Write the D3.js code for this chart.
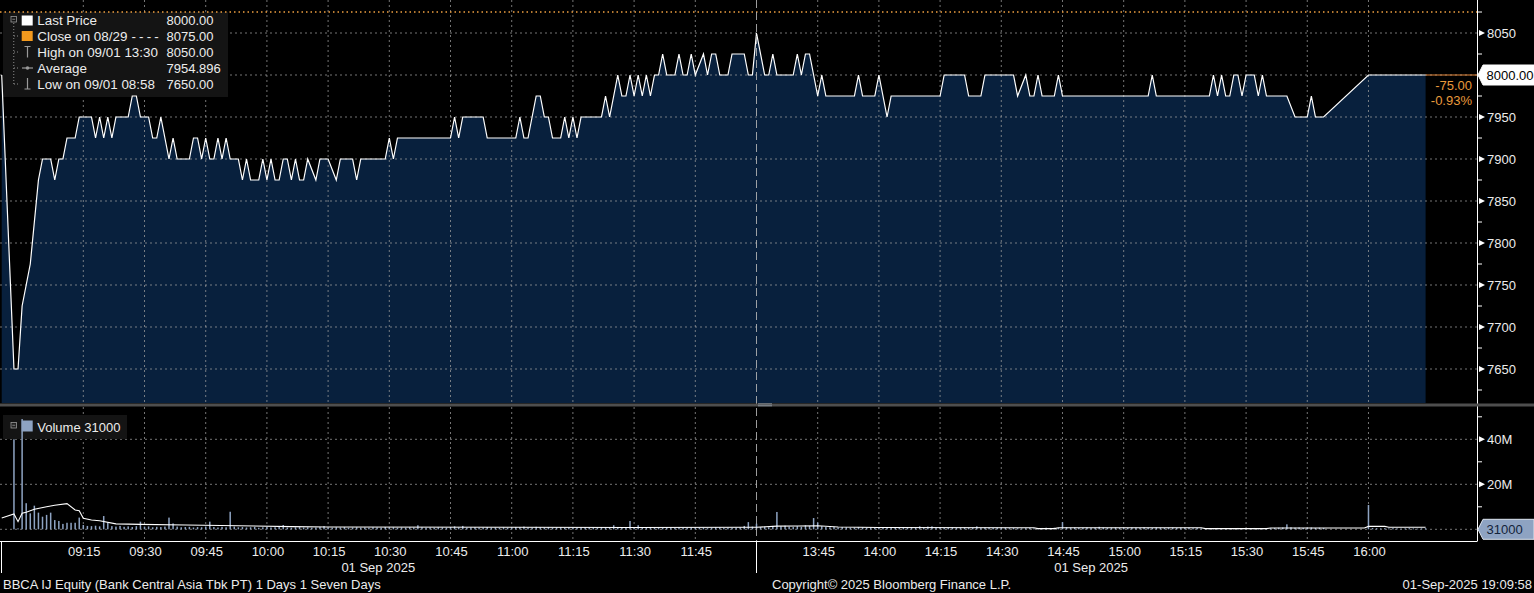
<!DOCTYPE html>
<html><head><meta charset="utf-8">
<script src="https://cdn.jsdelivr.net/npm/d3@7"></script>
<style>
html,body{margin:0;padding:0;background:#000;overflow:hidden}
svg{display:block}
text{font-family:"Liberation Sans",Arial,sans-serif}
</style></head><body>
<svg id="c" width="1534" height="593"></svg>
<script>
// ---------------- DATA ----------------
const priceTimes = [
 "08:55","08:58","08:59","09:00","09:01","09:02","09:03","09:04","09:05","09:07","09:08","09:09","09:10","09:11","09:13","09:14",
 "09:17","09:18","09:19","09:20","09:21","09:22","09:23","09:26","09:27","09:28","09:29","09:31","09:32","09:33","09:34","09:36",
 "09:37","09:38","09:41","09:42","09:43","09:44","09:45","09:46","09:47","09:48","09:49","09:50","09:51","09:53","09:54","09:55",
 "09:56","09:58","09:59","10:00","10:01","10:02","10:03","10:04","10:05","10:06","10:07","10:08","10:09","10:10","10:12","10:13",
 "10:15","10:17","10:18","10:21","10:22","10:23","10:29","10:30","10:31","10:32","10:45","10:46","10:47","10:48","10:53","10:54",
 "11:01","11:02","11:03","11:04","11:06","11:07","11:08","11:09","11:10","11:12","11:13","11:14","11:15","11:16","11:17","11:22",
 "11:23","11:24","11:26","11:27","11:28","11:29","11:30","11:31","11:32","11:33","11:34","11:35","11:36","11:37","11:38","11:40",
 "11:41","11:42","11:43","11:44","11:45","11:47","11:48","11:49","11:50","11:51","11:53","11:54","11:57","11:58","11:59",
 "13:30","13:32","13:33","13:34","13:35","13:39","13:40","13:41","13:42","13:43","13:45","13:46","13:47","13:54","13:55","13:56",
 "13:59","14:00","14:02","14:03","14:15","14:16","14:21","14:22","14:25","14:26","14:33","14:34","14:36","14:37","14:38","14:39",
 "14:40","14:43","14:44","14:45","15:06","15:07","15:08","15:21","15:22","15:23","15:24","15:25","15:26","15:27","15:28","15:29",
 "15:30","15:32","15:33","15:34","15:35","15:40","15:42","15:45","15:46","15:47","15:49","16:00","16:14"
];
const priceValues = [
 8000,7650,7650,7725,7750,7775,7825,7875,7900,7900,7875,7900,7900,7925,7925,7950,
 7950,7925,7950,7925,7950,7925,7950,7950,7975,7975,7950,7950,7925,7925,7950,7900,
 7925,7900,7900,7925,7925,7900,7925,7900,7900,7925,7900,7925,7900,7900,7875,7900,
 7875,7875,7900,7875,7900,7875,7875,7900,7900,7875,7900,7875,7875,7900,7875,7900,
 7900,7875,7900,7900,7875,7900,7900,7925,7900,7925,7925,7950,7925,7950,7950,7925,
 7925,7950,7925,7925,7975,7975,7950,7950,7925,7925,7950,7925,7950,7925,7950,7950,
 7975,7950,8000,7975,7975,8000,7975,8000,7975,8000,7975,8000,8000,8025,8000,8000,
 8025,8000,8000,8025,8000,8025,8000,8025,8025,8000,8000,8025,8025,8000,8000,
 8050,8000,8000,8025,8000,8000,8025,8000,8025,8025,7975,8000,7975,7975,8000,7975,
 7975,8000,7950,7975,7975,8000,8000,7975,7975,8000,8000,7975,8000,7975,7975,8000,
 7975,7975,8000,7975,7975,8000,7975,7975,8000,7975,8000,7975,7975,8000,8000,7975,
 8000,8000,7975,8000,7975,7975,7950,7950,7975,7950,7950,8000,8000
];

// volume per minute, in millions of shares
const volMorningStart = "08:55";
const volMorning = [
 0,0,0,40,0.4,49,11.6,7.1,10.5,7.4,5.6,6.4,7.4,4.1,3.7,
 2.4,2.9,2.9,2.9,5.2,1.9,1.5,1.4,1.6,1.3,5.9,3.1,1.4,1.2,1.5,
 1.1,1.3,1.0,1.4,3.4,1.2,1.3,0.9,1.1,1.0,1.2,5.2,2.6,1.2,0.9,
 1.0,1.1,0.8,1.0,0.9,1.2,3.4,1.0,0.8,1.1,0.9,7.8,1.2,0.9,1.0,
 0.8,0.9,1.1,0.7,0.9,1.0,0.8,0.9,1.2,1.9,0.8,0.7,0.9,1.0,0.8,
 0.9,0.7,0.8,1.0,1.4,0.8,0.7,0.9,0.8,1.0,0.7,0.8,0.9,0.7,0.8,
 0.7,0.9,0.8,0.7,1.0,0.8,0.9,0.7,0.8,0.7,0.9,0.8,1.8,0.9,0.7,
 0.8,0.7,0.9,0.8,0.7,1.0,1.3,0.8,1.5,0.7,0.8,0.9,0.7,0.8,1.0,
 0.7,0.8,0.6,0.9,0.7,0.8,1.0,0.9,1.2,0.8,0.7,1.1,0.9,0.8,1.0,
 0.7,0.8,0.9,0.7,0.8,0.6,0.7,0.8,0.9,0.7,0.8,0.6,0.9,0.8,0.7,
 1.8,0.8,0.9,0.7,3.7,1.0,1.8,0.8,0.7,0.9,0.8,0.7,0.6,0.8,0.7,
 0.6,0.8,0.7,0.6,0.7,0.8,0.6,0.7,0.5,0.6,0.9,0.8,0.6,0.7,0.6,
 0.7,0.8,1.5,3.2,1.2
];
const volAfternoonStart = "13:30";
const volAfternoon = [
 2.5,1.0,1.2,0.9,1.5,7.7,1.3,1.6,1.2,1.0,1.4,1.1,1.8,1.5,5.0,
 3.0,1.4,1.0,0.9,1.1,0.8,1.0,0.9,0.7,0.8,1.0,0.9,0.7,0.8,0.6,
 0.7,0.8,0.6,0.7,0.8,0.6,1.0,0.7,0.9,0.6,1.3,0.8,1.2,1.3,0.7,
 0.8,0.6,0.7,0.9,0.6,0.7,0.8,0.6,0.7,1.3,0.6,0.8,0.7,0.6,0.7,
 0.6,0.7,0.5,0.6,0.5,0.4,0.5,0.6,0.4,0.5,0.6,0.7,0.6,0.7,0.6,
 3.2,0.9,0.7,0.8,0.6,0.7,0.8,0.6,0.7,1.1,0.8,0.6,0.7,0.8,0.6,
 0.7,0.6,0.8,0.7,0.6,0.9,0.7,0.6,0.8,0.7,0.6,0.7,0.8,0.6,0.7,
 0.6,0.7,0.5,0.6,0.4,0.5,0.4,0.5,0.6,0.4,0.5,0.4,0.5,0.6,0.5,
 0.4,0.5,0.6,0.5,0.4,0.6,0.5,0.6,0.7,0.8,2.2,0.9,0.7,0.8,0.6,
 0.7,0.8,0.6,0.7,0.6,0,0,0,0,0,0,0,0,0,0,
 10.8,0.6,0.5,0.4,0.5,0.4,0.5,0.4,0.3,0.4,0.5,0.4,0.3,0.4,0.5
];
// white volume average line (millions)
const maTimes = ["08:55","08:58","08:59","09:00","09:01","09:03","09:06","09:08","09:11","09:13","09:14","09:15","09:17","09:19","09:23","09:29","09:40","10:06","10:15","11:00","11:30","11:59",
 "13:30","13:35","13:40","13:45","13:50","14:00","14:38","14:39","14:43","14:44","15:19","15:20","15:35","15:36","15:59","16:00","16:04","16:05","16:14"];
const maValues = [5.0,6.8,3.4,7.1,7.6,8.9,10.0,10.7,11.4,8.6,8.3,4.9,4.1,3.8,2.4,2.2,1.9,1.2,1.0,0.9,0.8,0.9,
 0.9,1.4,1.5,1.6,1.0,0.8,0.7,0.3,0.3,0.7,0.7,0.3,0.3,0.6,0.6,1.3,1.3,0.9,0.9];

const priceTicks = [7650,7700,7750,7800,7850,7900,7950,8000,8050];
const volTicks = [20,40];
const volTickLabels = ["20M","40M"];
const timeTicks = ["09:15","09:30","09:45","10:00","10:15","10:30","10:45","11:00","11:15","11:30","11:45",
 "13:45","14:00","14:15","14:30","14:45","15:00","15:15","15:30","15:45","16:00"];
const legendLabels = ["Last Price","Close on 08/29","High on 09/01 13:30","Average","Low on 09/01 08:58"];
const legendValues = ["8000.00","8075.00","8050.00","7954.896","7650.00"];
const lastPrice = 8000, prevClose = 8075, lastVolume = "31000";
const dateLabel = "01 Sep 2025";
const footerLeft = "BBCA IJ Equity (Bank Central Asia Tbk PT) 1 Days 1 Seven Days";
const footerMid = "Copyright\u00A9 2025 Bloomberg Finance L.P.";
const footerRight = "01-Sep-2025 19:09:58";

// ---------------- CHART ----------------
const W = 1534, H = 593;
const plotR = 1477, pTop = 0, pBot = 403, vTop = 407, vBot = 541;
const FS = 13;
const toMin = s => { const [h, m] = s.split(":").map(Number); return h * 60 + m; };
const svg = d3.select("#c");
svg.append("rect").attr("width", W).attr("height", H).attr("fill", "#000");

const lunchStart = toMin("12:00"), lunchEnd = toMin("13:30");
const x = d3.scaleLinear().domain([534.58, lunchStart, lunchEnd, 986.6]).range([0, 756.5, 756.5, plotR]);
const yP = d3.scaleLinear().domain([7650, 8050]).range([369, 33]);
const yV = d3.scaleLinear().domain([0, 40]).range([529.3, 439.3]);

const defs = svg.append("defs");
defs.append("clipPath").attr("id", "cp").append("rect").attr("x", 0).attr("y", pTop).attr("width", plotR).attr("height", pBot - pTop);
defs.append("clipPath").attr("id", "cv").append("rect").attr("x", 0).attr("y", vTop).attr("width", plotR).attr("height", vBot - vTop);

const price = priceTimes.map((s, i) => ({ t: toMin(s), p: priceValues[i] }));
const vols = [];
volMorning.forEach((v, i) => vols.push({ t: toMin(volMorningStart) + i, v }));
volAfternoon.forEach((v, i) => vols.push({ t: toMin(volAfternoonStart) + i, v }));
const ma = maTimes.map((s, i) => ({ t: toMin(s), v: maValues[i] }));

const gridCol = "#9c9c9c";
// ---- price panel
const gp = svg.append("g").attr("clip-path", "url(#cp)");
gp.append("path").datum(price)
  .attr("d", d3.area().x(d => x(d.t)).y0(pBot).y1(d => yP(d.p)))
  .attr("fill", "#08203d");
gp.selectAll(".hg").data(priceTicks).join("line")
  .attr("x1", 0).attr("x2", plotR).attr("y1", d => yP(d)).attr("y2", d => yP(d))
  .attr("stroke", gridCol).attr("stroke-dasharray", "2,3").attr("opacity", 0.75);
gp.selectAll(".vg").data(timeTicks).join("line")
  .attr("x1", d => x(toMin(d))).attr("x2", d => x(toMin(d))).attr("y1", pTop).attr("y2", pBot)
  .attr("stroke", gridCol).attr("stroke-dasharray", "2,3").attr("opacity", 0.75);

// legend bg (price)
svg.append("rect").attr("x", 3).attr("y", 12).attr("width", 225).attr("height", 85).attr("fill", "#141414");

// previous close dotted
svg.append("line").attr("x1", 0).attr("x2", plotR + 3).attr("y1", yP(prevClose)).attr("y2", yP(prevClose))
  .attr("stroke", "#f0a040").attr("stroke-width", 1.3).attr("stroke-dasharray", "1.5,3");

// price line
const gl = svg.append("g").attr("clip-path", "url(#cp)");
gl.append("path").datum(price)
  .attr("d", d3.line().x(d => x(d.t)).y(d => yP(d.p)))
  .attr("fill", "none").attr("stroke", "#ffffff").attr("stroke-width", 1.2).attr("stroke-linejoin", "miter");
const lastT = price[price.length - 1].t;
svg.append("line").attr("x1", x(lastT)).attr("x2", plotR).attr("y1", yP(lastPrice)).attr("y2", yP(lastPrice))
  .attr("stroke", "#e8883a").attr("stroke-width", 1);
const chg = lastPrice - prevClose;
svg.append("text").attr("x", 1472).attr("y", 85).attr("dy", "0.35em").attr("text-anchor", "end")
  .attr("font-size", FS).attr("fill", "#e89a3c").text(chg.toFixed(2));
svg.append("text").attr("x", 1472).attr("y", 100).attr("dy", "0.35em").attr("text-anchor", "end")
  .attr("font-size", FS).attr("fill", "#e89a3c").text((chg / prevClose * 100).toFixed(2) + "%");

// legend contents (price)
const lg = svg.append("g");
const rowY = [20.5, 36, 52, 68, 84];
lg.append("rect").attr("x", 11).attr("y", 16.5).attr("width", 5.5).attr("height", 5.5).attr("fill", "none").attr("stroke", "#9a9a9a").attr("stroke-width", 0.8);
lg.append("line").attr("x1", 12.3).attr("x2", 15.2).attr("y1", 19.25).attr("y2", 19.25).attr("stroke", "#9a9a9a").attr("stroke-width", 0.8);
lg.append("line").attr("x1", 13.75).attr("x2", 13.75).attr("y1", 23).attr("y2", 84).attr("stroke", "#8a8a8a").attr("stroke-dasharray", "1,2");
rowY.slice(1).forEach(y => lg.append("line").attr("x1", 14).attr("x2", 20).attr("y1", y).attr("y2", y).attr("stroke", "#8a8a8a").attr("stroke-dasharray", "1,2"));
lg.append("rect").attr("x", 21.7).attr("y", rowY[0] - 5).attr("width", 11).attr("height", 10).attr("fill", "#ffffff");
lg.append("rect").attr("x", 21.7).attr("y", rowY[1] - 5).attr("width", 11).attr("height", 10).attr("fill", "#f39a1e");
lg.append("path").attr("d", `M24.5,${rowY[2]-5.5}H30.5M27.5,${rowY[2]-5.5}V${rowY[2]+5.5}`).attr("stroke", "#9a9a9a").attr("stroke-width", 1.2).attr("fill", "none");
lg.append("path").attr("d", `M22,${rowY[3]}H33`).attr("stroke", "#9a9a9a").attr("stroke-width", 1.2);
lg.append("circle").attr("cx", 27.5).attr("cy", rowY[3]).attr("r", 1.8).attr("fill", "#9a9a9a");
lg.append("path").attr("d", `M27.5,${rowY[4]-6}V${rowY[4]+5}M24.5,${rowY[4]+5}H30.5`).attr("stroke", "#9a9a9a").attr("stroke-width", 1.2).attr("fill", "none");
const lt = lg.selectAll(".ll").data(legendLabels).join("text")
  .attr("x", 37.3).attr("y", (d, i) => rowY[i]).attr("dy", "0.35em").attr("font-size", 13.4).attr("fill", "#ececec");
lt.append("tspan").text(d => d);
lt.filter((d, i) => i === 1).append("tspan").attr("letter-spacing", 3.2).attr("dx", 4).text("----");
lg.selectAll(".lv").data(legendValues).join("text")
  .attr("x", 166.5).attr("y", (d, i) => rowY[i]).attr("dy", "0.35em").attr("font-size", 13).attr("fill", "#ececec").text(d => d);

// ---- volume panel
const gv = svg.append("g").attr("clip-path", "url(#cv)");
gv.selectAll(".vhg").data([0, 20, 40]).join("line")
  .attr("x1", 0).attr("x2", plotR).attr("y1", d => yV(d)).attr("y2", d => yV(d))
  .attr("stroke", gridCol).attr("stroke-dasharray", "2,3").attr("opacity", 0.75);
gv.selectAll(".vvg").data(timeTicks).join("line")
  .attr("x1", d => x(toMin(d))).attr("x2", d => x(toMin(d))).attr("y1", vTop).attr("y2", vBot)
  .attr("stroke", gridCol).attr("stroke-dasharray", "2,3").attr("opacity", 0.75);
svg.append("rect").attr("x", 3).attr("y", 415).attr("width", 124).attr("height", 24).attr("fill", "#141414");
const gvb = svg.append("g").attr("clip-path", "url(#cv)");
gvb.selectAll(".vb").data(vols.filter(d => d.v > 0)).join("rect")
  .attr("x", d => x(d.t) - 0.75).attr("width", 1.5)
  .attr("y", d => yV(d.v)).attr("height", d => yV(0) - yV(d.v))
  .attr("fill", "#8ea3c2");
gvb.append("path").datum(ma)
  .attr("d", d3.line().x(d => x(d.t)).y(d => yV(d.v)))
  .attr("fill", "none").attr("stroke", "#ffffff").attr("stroke-width", 1.1);
svg.append("rect").attr("x", 11).attr("y", 422.5).attr("width", 5.5).attr("height", 5.5).attr("fill", "#222").attr("stroke", "#9a9a9a").attr("stroke-width", 0.8);
svg.append("line").attr("x1", 12.3).attr("x2", 15.2).attr("y1", 425.25).attr("y2", 425.25).attr("stroke", "#9a9a9a").attr("stroke-width", 0.8);
svg.append("rect").attr("x", 21.7).attr("y", 420.5).attr("width", 11).attr("height", 11).attr("fill", "#8ea3c2");
svg.append("text").attr("x", 37.3).attr("y", 427).attr("dy", "0.35em").attr("font-size", FS).attr("fill", "#ececec").text("Volume " + lastVolume);

// lunch-break session divider
svg.append("line").attr("x1", x(lunchStart)).attr("x2", x(lunchStart)).attr("y1", 0).attr("y2", vBot)
  .attr("stroke", "#b8b8b8").attr("stroke-dasharray", "8,4").attr("opacity", 0.85);
svg.append("line").attr("x1", x(lunchStart)).attr("x2", x(lunchStart)).attr("y1", vBot).attr("y2", 573).attr("stroke", "#ffffff");
svg.append("line").attr("x1", 1.5).attr("x2", 1.5).attr("y1", vBot).attr("y2", 573).attr("stroke", "#ffffff");

// ---- axes
svg.append("line").attr("x1", plotR + 0.5).attr("x2", plotR + 0.5).attr("y1", 0).attr("y2", vBot).attr("stroke", "#fff");
svg.append("line").attr("x1", 0).attr("x2", plotR + 0.5).attr("y1", vBot + 0.5).attr("y2", vBot + 0.5).attr("stroke", "#fff");
svg.append("rect").attr("x", 0).attr("y", 403.5).attr("width", W).attr("height", 3).attr("fill", "#4e4e4e");
svg.append("path").attr("d", "M758,403.8H772M758,405.8H772").attr("stroke", "#9aa4b0").attr("stroke-width", 0.8);

const tri = y => `M${plotR + 2},${y - 3}L${plotR + 8},${y}L${plotR + 2},${y + 3}Z`;
const minorP = d3.range(7625, 8100, 25).filter(v => v % 50 !== 0);
svg.selectAll(".mp").data(minorP).join("line")
  .attr("x1", plotR).attr("x2", plotR + 5).attr("y1", d => yP(d)).attr("y2", d => yP(d)).attr("stroke", "#fff");
const shownTicks = priceTicks.filter(d => Math.abs(yP(d) - yP(lastPrice)) > 12);
svg.selectAll(".pt").data(shownTicks).join("path").attr("d", d => tri(yP(d))).attr("fill", "#fff");
svg.selectAll(".pl").data(shownTicks).join("text")
  .attr("x", plotR + 10).attr("y", d => yP(d)).attr("dy", "0.35em").attr("font-size", FS).attr("fill", "#ececec").text(d => d);
svg.selectAll(".mv").data([10, 30, 50]).join("line")
  .attr("x1", plotR).attr("x2", plotR + 5).attr("y1", d => yV(d)).attr("y2", d => yV(d)).attr("stroke", "#fff");
svg.selectAll(".vt").data(volTicks).join("path").attr("d", d => tri(yV(d))).attr("fill", "#fff");
svg.selectAll(".vl").data(volTicks).join("text")
  .attr("x", plotR + 10).attr("y", d => yV(d)).attr("dy", "0.35em").attr("font-size", FS).attr("fill", "#ececec")
  .text((d, i) => volTickLabels[i]);

const callout = (y, fill, stroke, txt, txtCol) => {
  svg.append("path").attr("d", `M${plotR + 1},${y}L${plotR + 6},${y - 10}H${W}V${y + 10}H${plotR + 6}Z`)
    .attr("fill", fill).attr("stroke", stroke).attr("stroke-width", 1);
  svg.append("text").attr("x", plotR + 9.5).attr("y", y).attr("dy", "0.36em").attr("font-size", FS).attr("fill", txtCol).text(txt);
};
callout(yP(lastPrice), "#ffffff", "#ffffff", lastPrice.toFixed(2), "#000");
callout(yV(0), "#8ea3c2", "#dde4ee", lastVolume, "#14233a");

svg.selectAll(".tl").data(timeTicks).join("text")
  .attr("x", d => x(toMin(d)) + 1).attr("y", 551).attr("dy", "0.35em").attr("text-anchor", "middle")
  .attr("font-size", FS).attr("fill", "#ececec").text(d => d);
const amMid = (x.range()[0] + x(lunchStart)) / 2;
const pmMid = (x(lunchEnd) + x(lastT)) / 2;
svg.selectAll(".dl").data([amMid, pmMid]).join("text")
  .attr("x", d => d).attr("y", 567).attr("dy", "0.35em").attr("text-anchor", "middle")
  .attr("font-size", FS).attr("fill", "#ececec").text(dateLabel);

svg.append("text").attr("x", 3).attr("y", 584).attr("dy", "0.35em").attr("font-size", FS).attr("fill", "#ececec").text(footerLeft);
svg.append("text").attr("x", 772).attr("y", 584).attr("dy", "0.35em").attr("font-size", FS).attr("fill", "#ececec").text(footerMid);
svg.append("text").attr("x", 1532).attr("y", 584).attr("dy", "0.35em").attr("text-anchor", "end").attr("font-size", FS).attr("fill", "#ececec").text(footerRight);
</script>
</body></html>
